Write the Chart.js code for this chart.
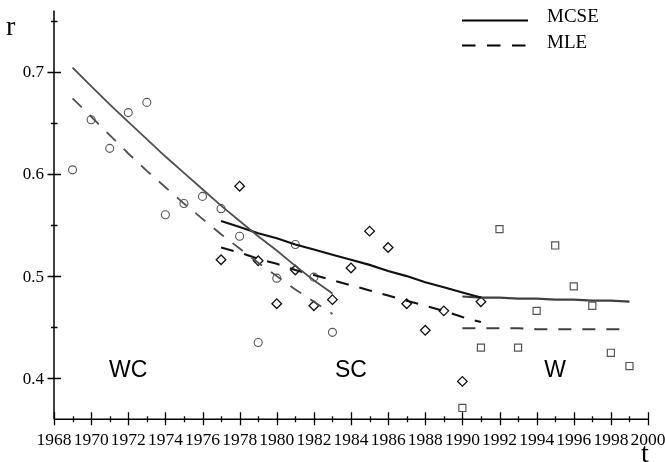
<!DOCTYPE html>
<html>
<head>
<meta charset="utf-8">
<script src="https://cdn.jsdelivr.net/npm/chart.js@4.4.1/dist/chart.umd.min.js"></script>
<style>
  html, body { margin: 0; padding: 0; background: #ffffff; }
  #wrap { width: 665px; height: 462px; position: relative; }
</style>
</head>
<body>
<div id="wrap"><canvas id="chart"></canvas></div>
<script>
// Yearly observations for the three periods
const wcYears = [1969, 1970, 1971, 1972, 1973, 1974, 1975, 1976, 1977, 1978, 1979, 1980, 1981, 1982, 1983];
const wcObserved = [0.604, 0.653, 0.625, 0.660, 0.670, 0.560, 0.571, 0.578, 0.566, 0.539, 0.435, 0.498, 0.531, 0.499, 0.445];

const scYears = [1977, 1978, 1979, 1980, 1981, 1982, 1983, 1984, 1985, 1986, 1987, 1988, 1989, 1990, 1991];
const scObserved = [0.516, 0.588, 0.515, 0.473, 0.506, 0.471, 0.477, 0.508, 0.544, 0.528, 0.473, 0.447, 0.466, 0.397, 0.475];

const wYears = [1990, 1991, 1992, 1993, 1994, 1995, 1996, 1997, 1998, 1999];
const wObserved = [0.371, 0.430, 0.546, 0.430, 0.466, 0.530, 0.490, 0.471, 0.425, 0.412];

// Fitted trends (MCSE and MLE) per period
const wcMcse = [0.704, 0.686, 0.668, 0.651, 0.634, 0.617, 0.601, 0.585, 0.569, 0.554, 0.539, 0.525, 0.510, 0.496, 0.483];
const wcMle  = [0.674, 0.656, 0.638, 0.620, 0.603, 0.587, 0.571, 0.556, 0.541, 0.527, 0.513, 0.500, 0.487, 0.475, 0.463];
const scMcse = [0.554, 0.548, 0.542, 0.537, 0.531, 0.526, 0.521, 0.516, 0.511, 0.505, 0.500, 0.494, 0.489, 0.484, 0.479];
const scMle  = [0.528, 0.523, 0.517, 0.512, 0.506, 0.501, 0.496, 0.491, 0.486, 0.481, 0.476, 0.471, 0.466, 0.460, 0.455];
const wMcse  = [0.480, 0.479, 0.479, 0.478, 0.478, 0.477, 0.477, 0.476, 0.476, 0.475];
const wMle   = [0.449, 0.449, 0.449, 0.449, 0.448, 0.448, 0.448, 0.448, 0.448, 0.448];

// Axis ticks and labels
const xTickLabels = [1968, 1970, 1972, 1974, 1976, 1978, 1980, 1982, 1984, 1986, 1988, 1990, 1992, 1994, 1996, 1998, 2000];
const yTickLabels = [0.4, 0.5, 0.6, 0.7];
const yMinorTicks = [0.45, 0.55, 0.65, 0.75];

// Period names and where they sit
const periodNames = ['WC', 'SC', 'W'];
const periodNameYears = [1972, 1984, 1995];
const periodNameLevel = 0.4075;

const legendNames = ['MCSE', 'MLE'];

const toPoints = (xs, ys) => xs.map((x, i) => ({ x: x, y: ys[i] }));

const GRAY = '#4f4f4f';
const DARK = '#111111';
const DASH = [13, 11];

function trend(data, color, width, dashed) {
  return {
    type: 'line',
    data: data,
    borderColor: color,
    borderWidth: width,
    borderDash: dashed ? DASH : [],
    pointRadius: 0,
    fill: false,
    tension: 0
  };
}

function marks(data, style, radius, color, width) {
  return {
    type: 'scatter',
    data: data,
    pointStyle: style,
    pointRadius: radius,
    pointHoverRadius: radius,
    pointBackgroundColor: 'rgba(0,0,0,0)',
    pointBorderColor: color,
    pointBorderWidth: width,
    showLine: false
  };
}

// Axes drawn through the chart's own scales, with ticks crossing the axis lines
const axesPlugin = {
  id: 'crossAxes',
  afterDraw(chart) {
    const ctx = chart.ctx;
    const xs = chart.scales.x;
    const ys = chart.scales.y;
    const x0 = xs.getPixelForValue(1968);
    const x1 = xs.getPixelForValue(2000);
    const yBase = ys.getPixelForValue(0.36);
    const yTop = ys.getPixelForValue(0.76);

    ctx.save();
    ctx.strokeStyle = '#000';
    ctx.lineWidth = 1.5;
    ctx.beginPath();
    ctx.moveTo(x0, yTop);
    ctx.lineTo(x0, yBase);
    ctx.moveTo(x0, yBase);
    ctx.lineTo(x1, yBase);
    ctx.stroke();

    // x ticks: every year, longer on even years
    ctx.lineWidth = 1.3;
    ctx.beginPath();
    for (let yr = 1968; yr <= 2000; yr++) {
      const px = Math.round(xs.getPixelForValue(yr)) + 0.5;
      const major = yr % 2 === 0;
      ctx.moveTo(px, yBase - (major ? 7 : 3));
      ctx.lineTo(px, yBase + (major ? 6 : 3));
    }
    // y ticks
    yTickLabels.forEach(v => {
      const py = Math.round(ys.getPixelForValue(v)) + 0.5;
      ctx.moveTo(x0 - 6.5, py);
      ctx.lineTo(x0 + 7, py);
    });
    yMinorTicks.forEach(v => {
      const py = Math.round(ys.getPixelForValue(v)) + 0.5;
      ctx.moveTo(x0 - 3, py);
      ctx.lineTo(x0 + 3.5, py);
    });
    ctx.stroke();

    // tick labels
    ctx.fillStyle = '#000';
    ctx.font = '17.5px "Liberation Serif", "Times New Roman", serif';
    ctx.textAlign = 'center';
    ctx.textBaseline = 'alphabetic';
    xTickLabels.forEach(yr => {
      ctx.fillText(String(yr), xs.getPixelForValue(yr), yBase + 26);
    });
    ctx.textAlign = 'right';
    ctx.textBaseline = 'middle';
    ctx.font = '17px "Liberation Serif", "Times New Roman", serif';
    yTickLabels.forEach(v => {
      ctx.fillText(v.toFixed(1), x0 - 10, ys.getPixelForValue(v) + 1);
    });

    // axis titles
    ctx.font = '28px "Liberation Serif", "Times New Roman", serif';
    ctx.textAlign = 'left';
    ctx.textBaseline = 'alphabetic';
    ctx.fillText('r', 6, 35);
    ctx.textAlign = 'center';
    ctx.fillText('t', 645, 462);

    // period names
    ctx.font = '23px "Liberation Sans", Arial, sans-serif';
    ctx.textBaseline = 'middle';
    periodNames.forEach((name, i) => {
      ctx.fillText(name, xs.getPixelForValue(periodNameYears[i]), ys.getPixelForValue(periodNameLevel));
    });

    // legend
    ctx.strokeStyle = '#000';
    ctx.lineWidth = 2.2;
    ctx.beginPath();
    ctx.moveTo(462, 20.5);
    ctx.lineTo(528, 20.5);
    ctx.stroke();
    ctx.setLineDash([13.5, 11.5]);
    ctx.beginPath();
    ctx.moveTo(462, 45.5);
    ctx.lineTo(528, 45.5);
    ctx.stroke();
    ctx.setLineDash([]);
    ctx.font = '19px "Liberation Serif", "Times New Roman", serif';
    ctx.textAlign = 'left';
    ctx.textBaseline = 'alphabetic';
    ctx.fillText(legendNames[0], 547, 22);
    ctx.fillText(legendNames[1], 547, 48);
    ctx.restore();
  }
};

new Chart(document.getElementById('chart'), {
  data: {
    datasets: [
      trend(toPoints(wcYears, wcMcse), GRAY, 1.8, false),
      trend(toPoints(wcYears, wcMle), GRAY, 1.8, true),
      trend(toPoints(scYears, scMcse), DARK, 2.1, false),
      trend(toPoints(scYears, scMle), DARK, 2.1, true),
      trend(toPoints(wYears, wMcse), '#404040', 2.1, false),
      trend(toPoints(wYears, wMle), '#404040', 2.1, true),
      marks(toPoints(wcYears, wcObserved), 'circle', 4, '#555555', 1.1),
      marks(toPoints(scYears, scObserved), 'rectRot', 4.8, '#111111', 1.3),
      marks(toPoints(wYears, wObserved), 'rect', 5, '#555555', 1.2)
    ]
  },
  options: {
    responsive: true,
    maintainAspectRatio: false,
    animation: false,
    events: [],
    layout: { padding: { left: 54, right: 17, top: 10.4, bottom: 42.8 } },
    plugins: { legend: { display: false }, tooltip: { enabled: false } },
    scales: {
      x: { type: 'linear', min: 1968, max: 2000, display: false },
      y: { type: 'linear', min: 0.36, max: 0.76, display: false }
    }
  },
  plugins: [axesPlugin]
});
</script>
</body>
</html>
